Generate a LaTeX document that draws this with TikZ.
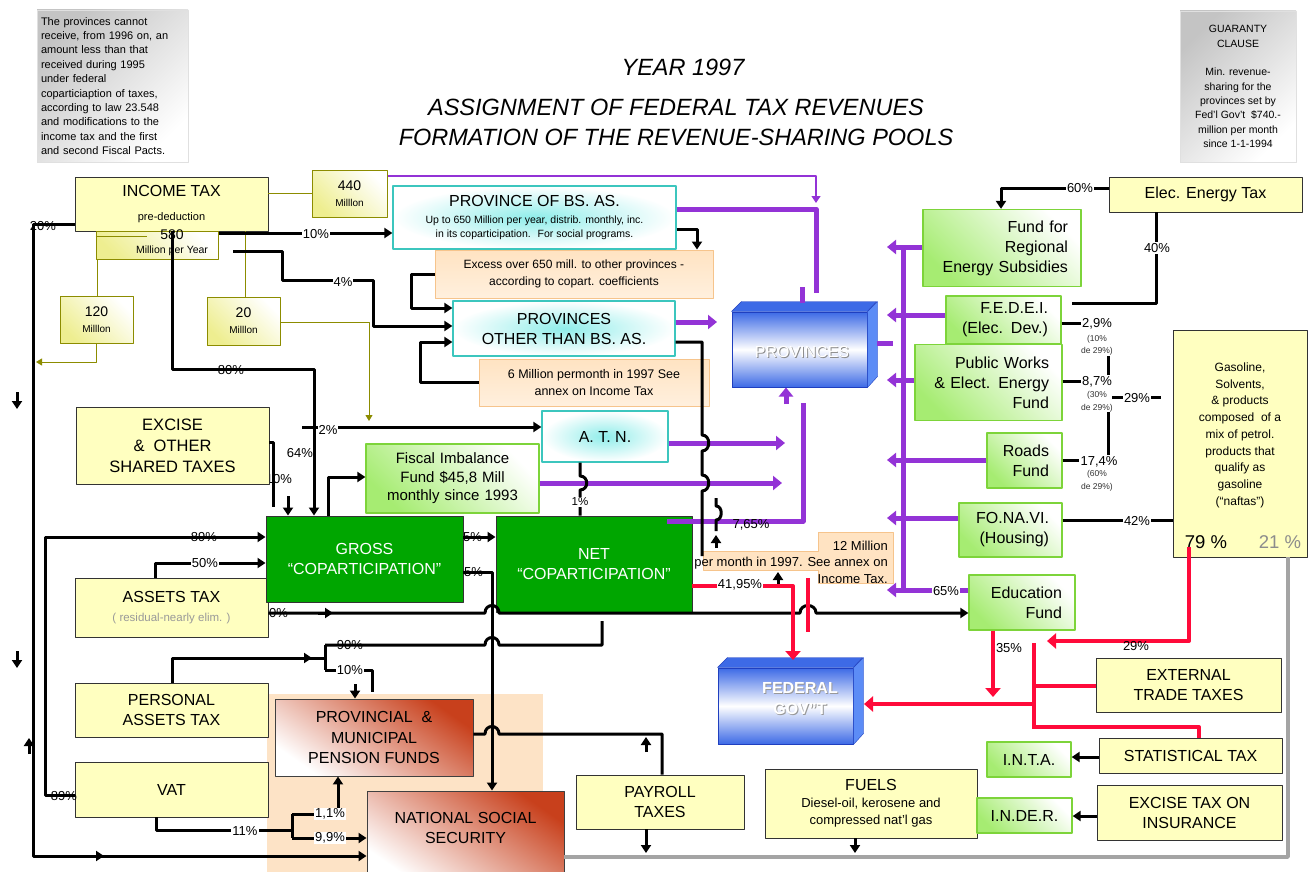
\documentclass[tikz,border=0pt]{standalone}
\usepackage{fontspec}
\setmainfont{Liberation Sans}
\usetikzlibrary{arrows.meta}
\definecolor{taxyellow}{HTML}{FFFFC0}
\definecolor{copgreen}{HTML}{00A600}
\definecolor{fundline}{HTML}{7DD43A}
\definecolor{fundfill}{HTML}{A6EC72}
\definecolor{tealline}{HTML}{3CC6BE}
\definecolor{tealglow}{HTML}{8FEDEA}
\definecolor{peachline}{HTML}{F6C48C}
\definecolor{peachfill}{HTML}{FFE3C2}
\definecolor{peachbg}{HTML}{FDE3C6}
\definecolor{oliveline}{HTML}{8C8C00}
\definecolor{olivefill}{HTML}{EEEE90}
\definecolor{pensred}{HTML}{C8401C}
\definecolor{cubeline}{HTML}{1F3FBF}
\definecolor{cubeblue}{HTML}{3D6AE6}
\definecolor{cubeside}{HTML}{5C8CF6}
\definecolor{flowpurple}{HTML}{9333D6}
\definecolor{flowred}{HTML}{FF0A3A}
\definecolor{flowgray}{HTML}{A4A4A4}
\definecolor{notegray}{HTML}{C4C4C4}
\begin{document}
\begin{tikzpicture}[x=1pt, y=-1pt, line join=round, font=\fontsize{16}{20}\selectfont]
\tikzset{
  sz/.style 2 args={minimum width=#1, minimum height=#2},
  box/.style={align=center, inner sep=2pt},
  taxbox/.style={box, draw=black!80, line width=.9pt, fill=taxyellow},
  copbox/.style={box, draw=black!80, line width=.9pt, fill=copgreen, text=white},
  fundbox/.style={box, draw=fundline, line width=1.3pt, top color=fundfill, bottom color=white, shading angle=135, align=right, inner xsep=13pt},
  provbox/.style={box, draw=tealline, line width=1.3pt, inner color=tealglow, outer color=white},
  memobox/.style={box, draw=peachline, line width=1pt, top color=peachfill, bottom color=peachfill!55!white},
  millbox/.style={box, draw=oliveline, line width=1pt, top color=olivefill, bottom color=white, shading angle=135},
  pensbox/.style={box, draw=black!75, line width=.9pt, top color=pensred, bottom color=white, shading angle=-35},
  cubebox/.style={draw=cubeline, line width=1pt, inner sep=0pt, top color=cubeblue, bottom color=cubeblue, middle color=white},
  notebox/.style={box, draw=black!12, top color=notegray, bottom color=white, shading angle=45},
  blk/.style={line width=3pt, >={Triangle[length=8pt,width=10pt]}},
  pur/.style={line width=5pt, flowpurple, >={Triangle[length=9pt,width=14pt]}},
  purthin/.style={line width=1.2pt, flowpurple, >={Triangle[length=7pt,width=9pt]}},
  redw/.style={line width=4pt, flowred, >={Triangle[length=9pt,width=15pt]}},
  olv/.style={line width=1pt, oliveline, >={Triangle[length=6pt,width=7pt]}},
  gryw/.style={line width=3.5pt, flowgray},
  pct/.style={font=\fontsize{13}{13}\selectfont, inner sep=1pt},
  pctw/.style={pct, fill=white},
  subpct/.style={font=\fontsize{8.5}{12.5}\selectfont, align=center, inner sep=0pt, text=black!80}
}
\fill[white] (0,0) rectangle (1314,872);
\useasboundingbox (0,0) rectangle (1314,872);
\fill[peachbg] (267,694) rectangle (543,872);
\path (33,856) coordinate (sw)
      (233,251) coordinate (inc4)
      (302,427) coordinate (atn2)
      (702,556) coordinate (mil12in)
      (716,498) coordinate (p765a)
      (716,548) coordinate (mil12up)
      (778,584) coordinate (mil12up2)
      (602,621) coordinate (net90)
      (1072,303) coordinate (fedei40)
      (1112,397) coordinate (w29a)
      (1161,397) coordinate (w29b)
      (1189,547) coordinate (gas79)
      (1288,557) coordinate (gas21)
      (1034,643) coordinate (redtop)
      (1034,729) coordinate (redbot)
      (1047,641) coordinate (red29)
      (993,697) coordinate (educ35)
      (808,578) coordinate (redstub)
      (793,660) coordinate (fedtop)
      (864,704) coordinate (fedside)
      (816,293) coordinate (bsasdrop)
      (816,203) coordinate (m440drop)
      (717,322) coordinate (othersin)
      (785,443) coordinate (atnin)
      (782,483) coordinate (fiscalin)
      (667,521) coordinate (net57)
      (803,403) coordinate (netup)
      (877,343) coordinate (provside)
      (893,343) coordinate (provout)
      (903,245) coordinate (trunktop)
      (903,592) coordinate (trunkbot)
      (887,0) coordinate (trunkleft)
      (36,362) coordinate (m120out)
      (369,421) coordinate (m20out);

% titles and notes
\node[font=\fontsize{23.5}{28}\selectfont\itshape] (year) at (683,67) {YEAR 1997};
\node[font=\fontsize{23.5}{28}\selectfont\itshape] (title) at (676,107) {ASSIGNMENT OF FEDERAL TAX REVENUES};
\node[font=\fontsize{23.5}{28}\selectfont\itshape] (subtitle) at (676,137) {FORMATION OF THE REVENUE-SHARING POOLS};
\node[notebox, sz={151}{152}, align=left, text width=143, inner xsep=4pt, font=\fontsize{11}{14.4}\selectfont] (rule96) at (112.5,86) {The provinces cannot\\receive, from 1996 on, an\\amount less than that\\received during 1995\\under federal\\coparticiaption of taxes,\\according to law 23.548\\and modifications to the\\income tax and the first\\and second Fiscal Pacts.};
\node[notebox, sz={116}{151}, font=\fontsize{10.5}{14.3}\selectfont] (guarantee) at (1238,86.5) {GUARANTY\\CLAUSE\\[14.3pt]Min. revenue-\\sharing for the\\provinces set by\\Fed'l Gov't~~\$740.-\\million per month\\since 1-1-1994};

% labels hidden in part by the boxes
\node[pct] (lexc) at (279,479) {10\%};
\node[pct] (lassets) at (275,613) {10\%};
\node[pct] (l15a) at (469,537) {15\%};
\node[pct] (l15b) at (470,572) {15\%};

% taxes
\node[taxbox, sz={193}{54}] (inc) at (171.5,204) {INCOME TAX\\[4pt]{\fontsize{11}{13}\selectfont pre-deduction}};
\node[millbox, sz={122}{28}] (m580) at (157,245) {};
\node[font=\fontsize{14}{14}\selectfont, align=center, inner sep=0pt] (m580t) at (172,243) {580\\{\fontsize{10.5}{12}\selectfont Million per Year}};
\node[millbox, sz={75}{47}, font=\fontsize{14}{16}\selectfont] (m440) at (349.5,193.5) {440\\{\fontsize{10}{12}\selectfont Milllon}};
\node[millbox, sz={73}{47}, font=\fontsize{14}{16}\selectfont] (m120) at (96.5,319.5) {120\\{\fontsize{10}{12}\selectfont Milllon}};
\node[millbox, sz={73}{48}, font=\fontsize{14}{16}\selectfont] (m20) at (243.5,321) {20\\{\fontsize{10}{12}\selectfont Milllon}};
\node[taxbox, sz={193}{77}, font=\fontsize{16.5}{21}\selectfont] (exc) at (172.5,445.5) {EXCISE\\\&~ OTHER\\SHARED TAXES};
\node[taxbox, sz={193}{59}] (assets) at (171.5,607.5) {ASSETS TAX\\[-1pt]{\fontsize{11.5}{13}\selectfont\color{black!40}( residual-nearly elim. )}};
\node[taxbox, sz={193}{54}] (pers) at (171.5,710) {PERSONAL\\ASSETS TAX};
\node[taxbox, sz={193}{55}] (vat) at (171.5,789.5) {VAT};
\node[taxbox, sz={168}{54}] (payroll) at (660,802) {PAYROLL\\TAXES};
\node[taxbox, sz={212}{69}] (fuels) at (871,803.5) {FUELS\\[-3pt]{\fontsize{13}{15}\selectfont Diesel-oil, kerosene and}\\[-3pt]{\fontsize{13}{15}\selectfont compressed nat'l gas}};
\node[taxbox, sz={193}{35}] (elec) at (1205.5,194.5) {Elec. Energy Tax};
\node[taxbox, sz={134}{227}, font=\fontsize{12}{16.75}\selectfont] (gas) at (1240,443.5) {Gasoline,\\Solvents,\\\& products\\composed~ of a\\mix of petrol.\\products that\\qualify as\\gasoline\\(“naftas”)\\[2pt]~};
\node[taxbox, sz={185}{54}] (ext) at (1188.5,685) {EXTERNAL\\TRADE TAXES};
\node[taxbox, sz={183}{35}] (stat) at (1190.5,755.5) {STATISTICAL TAX};
\node[taxbox, sz={185}{55}] (excins) at (1189.5,812.5) {EXCISE TAX ON\\INSURANCE};
\node[font=\fontsize{18.5}{20}\selectfont, inner sep=0pt] (g79) at (1206,542) {79 \%};
\node[font=\fontsize{18.5}{20}\selectfont, inner sep=0pt, text=black!45] (g21) at (1280,542) {21 \%};

% provinces side
\node[provbox, sz={283}{63}] (bsas) at (534.5,217.5) {PROVINCE OF BS. AS.\\[-3pt]{\fontsize{10.5}{13}\selectfont Up to 650 Million per year, distrib. monthly, inc.}\\[-6pt]{\fontsize{10.5}{13}\selectfont in its coparticipation.~ For social programs.}};
\node[memobox, sz={278}{48}, font=\fontsize{12}{17}\selectfont] (excess) at (574,274) {Excess over 650 mill. to other provinces -\\according to copart. coefficients};
\node[provbox, sz={222}{55}] (others) at (564,328.5) {PROVINCES\\OTHER THAN BS. AS.};
\node[memobox, sz={230}{47}, font=\fontsize{12.5}{17}\selectfont] (six) at (594,382.5) {6 Million permonth in 1997 See\\annex on Income Tax};
\node[provbox, sz={126}{51}] (atn) at (605,436.5) {A. T. N.};
\node[fundbox, sz={173}{69}, align=center, text width=147, font=\fontsize{15}{18.5}\selectfont] (fiscal) at (452.5,478.5) {Fiscal Imbalance\\Fund \$45,8 Mill\\monthly since 1993};
\node[copbox, sz={197}{86}] (gross) at (364.5,559) {GROSS\\“COPARTICIPATION”};
\node[copbox, sz={196}{96}] (net) at (594,564) {NET\\“COPARTICIPATION”};
\node[pensbox, sz={198}{77}, font=\fontsize{16}{20.5}\selectfont] (pens) at (374,737.5) {PROVINCIAL~ \&\\MUNICIPAL\\PENSION FUNDS};
\node[pensbox, sz={197}{90}] (nss) at (465.5,836) {};
\node[align=center] (nsstxt) at (465.5,828) {NATIONAL SOCIAL\\SECURITY};
\path[draw=peachline, fill=peachfill, line width=1pt] (818,532) -- (893,532) -- (893,583) -- (818,583) -- (818,570) -- (703,570) -- (703,551) -- (818,551) -- cycle;
\node[anchor=east, align=right, font=\fontsize{13}{16.5}\selectfont, inner sep=0pt] (mil12) at (888,562) {12 Million\\per month in 1997. See annex on\\Income Tax.};

% funds
\node[fundbox, sz={158}{77}, text width=132] (regional) at (1002,248) {Fund for\\Regional\\Energy Subsidies};
\node[fundbox, sz={115}{48}, text width=89] (fedei) at (1003.5,320) {F.E.D.E.I.\\(Elec. Dev.)};
\node[fundbox, sz={147}{76}, text width=121] (public) at (988.5,382.5) {Public Works\\\& Elect. Energy\\Fund};
\node[fundbox, sz={75}{55}, text width=49] (roads) at (1024.5,460.5) {Roads\\Fund};
\node[fundbox, sz={103}{54}, text width=77] (fonavi) at (1010.5,530) {FO.NA.VI.\\(Housing)};
\node[fundbox, sz={106}{55}, text width=80] (educ) at (1022,602.5) {Education\\Fund};
\node[fundbox, sz={84}{35}, align=center, text width=58] (inta) at (1029,759.5) {I.N.T.A.};
\node[fundbox, sz={95}{35}, align=center, text width=69, inner xsep=13pt] (inder) at (1024.5,815.5) {I.N.DE.R.};

% the two pools
\node[cubebox, sz={135}{75}] (prov) at (799.5,349.5) {};
\filldraw[fill=cubeblue, draw=cubeline] (prov.north west) -- ++(10,-10) -- ++(135,0) -- (prov.north east) -- cycle;
\filldraw[fill=cubeside, draw=cubeline] (prov.north east) -- ++(10,-10) -- ++(0,75) -- (prov.south east) -- cycle;
\node[text=black!45] (provshade) at (803,353) {PROVINCES};
\node[text=white] (provname) at (802,352) {PROVINCES};
\node[cubebox, sz={135}{76}] (fed) at (785.5,706) {};
\filldraw[fill=cubeblue, draw=cubeline] (fed.north west) -- ++(10,-10) -- ++(135,0) -- (fed.north east) -- cycle;
\filldraw[fill=cubeside, draw=cubeline] (fed.north east) -- ++(10,-10) -- ++(0,76) -- (fed.south east) -- cycle;
\node[align=center, font=\fontsize{16}{21}\selectfont\bfseries, text=black!40] (fedshade) at (801,700) {FEDERAL\\GOV"T};
\node[align=center, font=\fontsize{16}{21}\selectfont\bfseries, text=white] (fedname) at (800,699) {FEDERAL\\GOV"T};

% gray and olive flows
\draw[gryw] (gas21) |- (nss.east |- 0,857);
\draw[olv] (inc.east |- 0,193) -- (m440.west |- 0,193);
\draw[olv] (m580.south -| 97,0) -- (m120.north -| 97,0);
\draw[olv] (inc.south -| 245,0) -- (m20.north -| 245,0);
\draw[olv] (m580.west |- 0,236) -- (147,236);
\draw[olv,->] (m120.south) |- (m120out);
\draw[olv,->] (m20.east |- 0,322) -| (m20out);

% purple flows
\draw[pur] (bsas.east |- 0,209) -| (bsasdrop);
\draw[pur] (802,287) -- (802,303);
\draw[purthin,->] (m440.east |- 0,176) -| (m440drop);
\draw[pur,->] (others.east |- 0,322) -- (othersin);
\draw[pur,->] (atn.east |- 0,443) -- (atnin);
\draw[pur,->] (fiscal.east |- 0,483) -- (fiscalin);
\draw[pur] (net57) -| (netup);
\draw[pur,->] (786,404) -- (prov.south -| 786,0);
\draw[pur] (provside) -- (provout);
\draw[pur] (trunktop) -- (trunkbot);
\foreach \fund/\y in {regional/247,fedei/315,public/380,roads/460,fonavi/518,educ/590}
  \draw[pur,->] (\fund.west |- 0,\y) -- (trunkleft |- 0,\y);

% black flows
\draw[blk,->] (inc.west |- 0,224) -| (sw) -- (nss.west |- 0,856);
\draw[blk,->] (inc.south -| 172,0) |- (314,369) -- (gross.north -| 314,0);
\draw[blk,->] (m580.east |- 0,233) -- (bsas.west |- 0,233);
\draw[blk,->] (inc4) -| (282,280) -| (373,326) -- (others.west |- 0,326);
\draw[blk,->] (excess.west) -| (411,308) -- (others.west |- 0,308);
\draw[blk,->] (six.west) -| (420,342) -- (others.west |- 0,342);
\draw[blk,->] (bsas.east |- 0,229) -| (excess.north -| 697,0);
\draw[blk] (others.east |- 0,342) -| (702,435) .. controls (711,435) and (711,451) .. (702,451) -- (702,475) .. controls (711,475) and (711,491) .. (702,491) -- (mil12in);
\draw[blk] (p765a) -- (716,506) .. controls (723,506) and (723,520) .. (716,520) -- (716,531);
\draw[blk,->] (mil12up) -- ++(0,-13);
\draw[blk,->] (mil12up2) -- ++(0,-12);
\draw[blk] (atn.south -| 580,0) -- (580,476) .. controls (589,476) and (589,490) .. (580,490) -- (net.north -| 580,0);
\draw[blk] (exc.east |- 0,442) -| (273,507);
\draw[blk,->] (288,496) -- (gross.north -| 288,0);
\draw[blk,->] (gross.north -| 328,0) |- (fiscal.west |- 0,477);
\draw[blk,->] (atn2) -- (atn.west |- 0,427);
\draw[blk,->] (gross.east |- 0,537) -- (net.west |- 0,537);
\draw[blk,->] (gross.east |- 0,572) -| (nss.north -| 492,0);
\draw[blk,->] (assets.north -| 155,0) |- (gross.west |- 0,563);
\draw[blk,->] (vat.west |- 0,795) -| (45,537) -- (gross.west |- 0,537);
\draw[blk,->] (assets.east |- 0,613) -- (485,613) .. controls (485,603) and (499,603) .. (499,613) -- (800,613) .. controls (800,603) and (816,603) .. (816,613) -- (educ.west |- 0,613);
\draw[blk,->] (318,613) -- (333,613);
\draw[blk] (pers.north -| 172,0) |- (325,658);
\draw[blk,->] (294,658) -- (312,658);
\draw[blk] (325,645) -- (325,670);
\draw[blk] (325,645) -- (485,645) .. controls (485,635) and (499,635) .. (499,645) -| (net90);
\draw[blk] (325,670) -| (372,692);
\draw[blk,->] (355,684) -- (pens.north -| 355,0);
\draw[blk] (pens.east |- 0,734) -- (485,734) .. controls (485,724) and (499,724) .. (499,734) -| (payroll.north -| 662,0);
\draw[blk,->] (646,752) -- (646,737);
\draw[blk] (vat.south -| 156,0) |- (292,830);
\draw[blk] (292,814) -- (292,838);
\draw[blk,->] (292,814) -| (pens.south -| 338,0);
\draw[blk,->] (292,838) -- (nss.west |- 0,838);
\draw[blk,->] (payroll.south -| 646,0) -- (646,853);
\draw[blk,->] (fuels.south -| 855,0) -- (855,853);
\draw[blk,->] (stat.west |- 0,757) -- (inta.east |- 0,757);
\draw[blk,->] (excins.west |- 0,816) -- (inder.east |- 0,816);
\draw[blk,->] (17,392) -- (17,409);
\draw[blk,->] (17,651) -- (17,668);
\draw[blk,->] (29,754) -- (29,738);
\draw[blk,->] (88,856) -- (104,856);
\draw[blk,->] (elec.west |- 0,188) -| (regional.north -| 1001,0);
\draw[blk] (elec.south -| 1156,0) |- (fedei40);
\draw[blk] (w29a) -- (w29b);
\draw[blk] (fonavi.east |- 0,520) -- (gas.west |- 0,520);

% red flows
\draw[redw,->] (net.east |- 0,586) -| (fedtop);
\draw[redw] (redstub) -- (808,632);
\draw[redw,->] (educ.south -| 993,0) -- (educ35);
\draw[redw,->] (gas79) |- (red29);
\draw[redw] (redtop) -- (redbot);
\draw[redw] (ext.west |- 0,686) -- (redtop |- 0,686);
\draw[redw] (stat.north -| 1199,0) |- (redbot |- 0,727);
\draw[redw,->] (redtop |- 0,704) -- (fedside);

% percentages
\node[pct] (l20) at (43,226) {20\%};
\node[pctw] (l10) at (316,234) {10\%};
\node[pctw] (l4) at (343,282) {4\%};
\node[pct] (l80) at (231,370) {80\%};
\node[pctw] (l2) at (328,430) {2\%};
\node[pct] (l64) at (300,453) {64\%};
\node[pct] (l89a) at (204,537) {89\%};
\node[pctw] (l50) at (205,563) {50\%};
\node[pct] (l90) at (350,645) {90\%};
\node[pctw] (l10b) at (350,670) {10\%};
\node[pct] (l89b) at (64,796) {89\%};
\node[pctw] (l11) at (245,831) {11\%};
\node[pctw] (l11p) at (330,814) {1,1\%};
\node[pctw] (l99) at (330,838) {9,9\%};
\node[pctw, font=\fontsize{11.5}{12}\selectfont] (l1) at (580,502) {1\%};
\node[pct] (l57) at (751,525) {7,65\%};
\node[pctw] (l4195) at (740,585) {41,95\%};
\node[pctw] (l65) at (946,591) {65\%};
\node[pctw] (l60) at (1080,188) {60\%};
\node[pctw] (l40) at (1157,248) {40\%};
\node[pctw] (p29) at (1097,324) {2,9\%};
\node[subpct] (s29) at (1097,345.5) {(10\%\\de 29\%)};
\node[pctw] (p87) at (1097,382) {8,7\%};
\node[subpct] (s87) at (1097,402) {(30\%\\de 29\%)};
\node[pctw] (p174) at (1099,462) {17,4\%};
\node[subpct] (s174) at (1097,481) {(60\%\\de 29\%)};
\node[pctw] (l29) at (1137,398) {29\%};
\node[pctw] (l42) at (1137,521) {42\%};
\node[pct] (l29r) at (1136,646) {29\%};
\node[pct] (l35) at (1009,648) {35\%};
\draw[blk] (fedei.east |- 0,323) -- (p29.west |- 0,323);
\draw[blk] (public.east |- 0,381) -- (p87.west |- 0,381);
\draw[blk] (roads.east |- 0,460) -- (p174.west |- 0,460);
\draw[blk] (s29.south -| 1108,0) -- (p87.north -| 1108,0);
\draw[blk] (s87.south -| 1108,0) -- (p174.north -| 1108,0);
\end{tikzpicture}
\end{document}
